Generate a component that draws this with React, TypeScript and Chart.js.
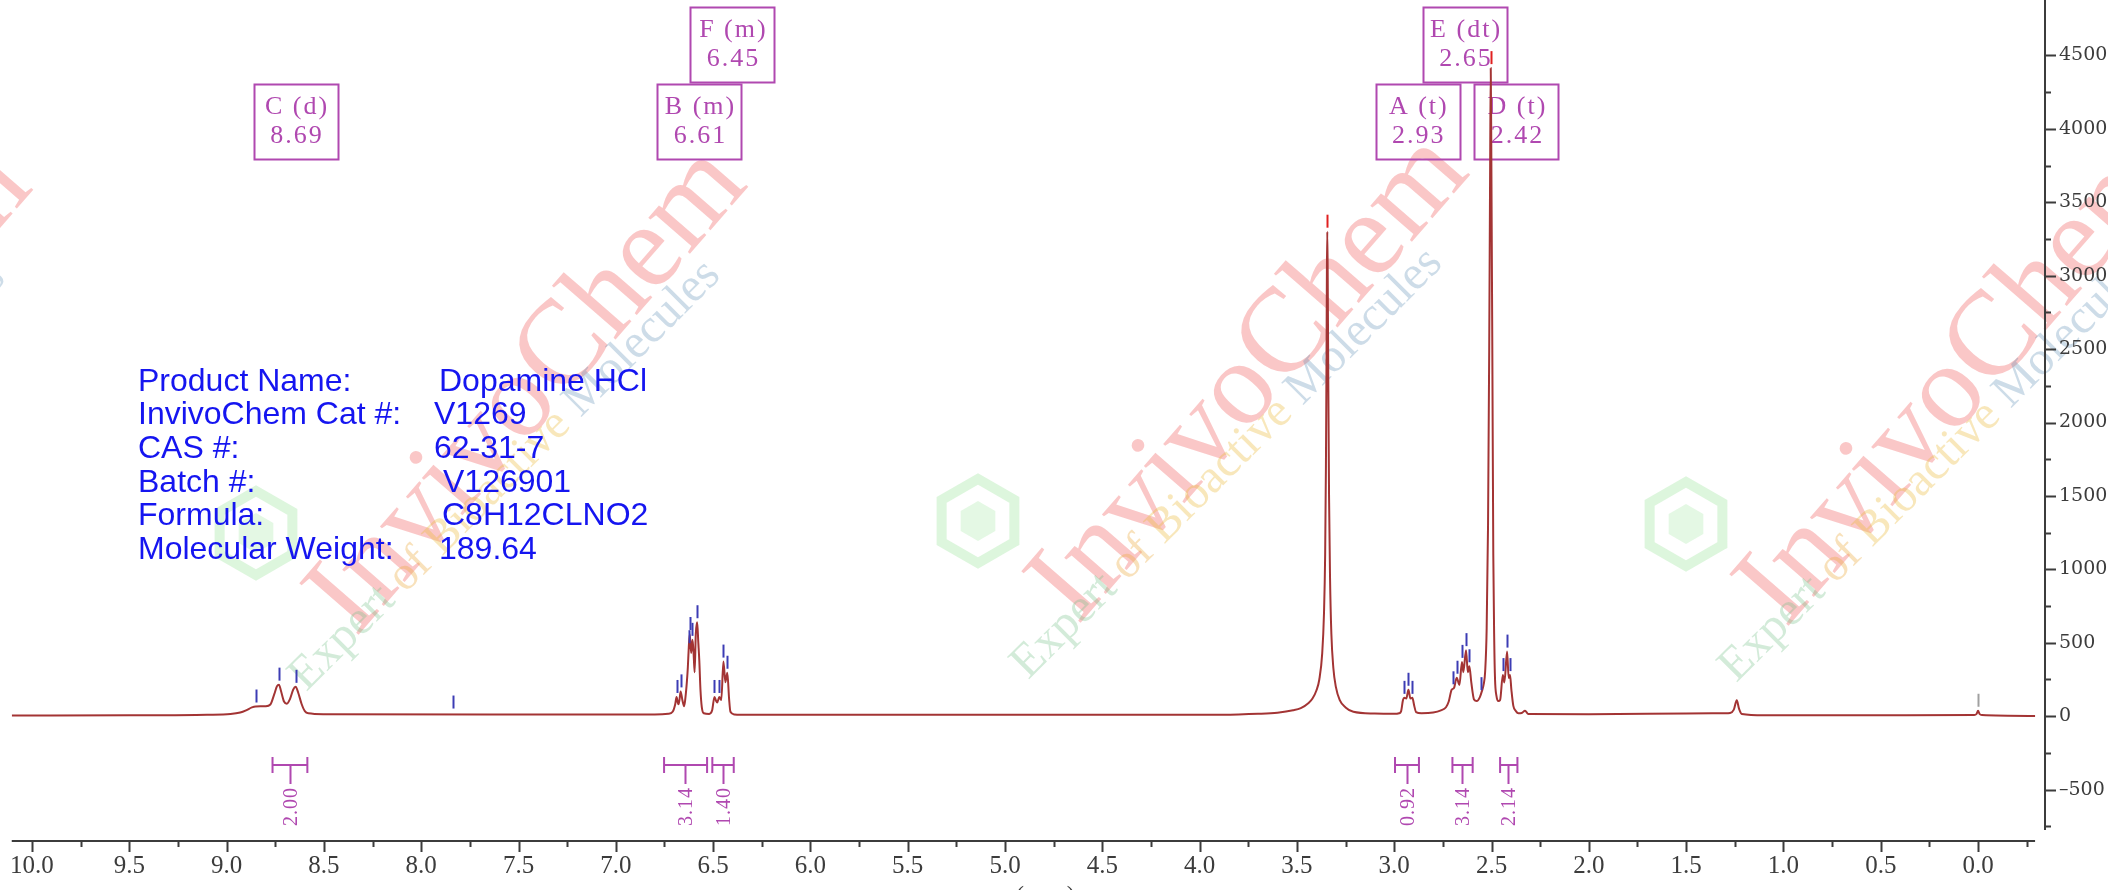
import React, { useEffect, useRef } from 'react';
import { Chart, registerables } from 'chart.js';

Chart.register(...registerables);

// ---------------- data ----------------
const spectrumPpm = [
  10.104, 9.5, 9.1, 8.98, 8.93, 8.9, 8.87, 8.85, 8.8, 8.775, 8.755, 8.741, 8.731, 8.72, 8.705, 8.69, 8.675, 8.658, 8.645, 8.632, 8.615, 8.598, 8.58, 8.5, 7.5, 6.8, 6.73,
  6.708, 6.695, 6.688, 6.682, 6.678, 6.672, 6.667, 6.658, 6.649, 6.642, 6.635, 6.63, 6.625, 6.62, 6.613, 6.606, 6.6, 6.595, 6.589, 6.582, 6.576, 6.571, 6.565, 6.558, 6.548,
  6.52, 6.505, 6.493, 6.485, 6.479, 6.468, 6.458, 6.447, 6.437, 6.427, 6.418, 6.411, 6.39, 6.36,
  5.0, 4.0, 3.8, 3.7, 3.6, 3.52, 3.48, 3.44, 3.42, 3.4, 3.385, 3.37, 3.361, 3.355, 3.351, 3.348, 3.346, 3.344, 3.342, 3.339, 3.335, 3.33, 3.323, 3.313, 3.3, 3.28, 3.25, 3.21, 3.1,
  3.0, 2.975, 2.965, 2.955, 2.948, 2.938, 2.927, 2.917, 2.907, 2.897, 2.888, 2.86, 2.8, 2.76,
  2.734, 2.72, 2.705, 2.693, 2.679, 2.665, 2.652, 2.645, 2.631, 2.622, 2.614, 2.604, 2.59, 2.576, 2.56, 2.55, 2.54, 2.533,
  2.525, 2.518, 2.512, 2.507, 2.504, 2.501, 2.496, 2.491, 2.486, 2.482, 2.475, 2.465, 2.456,
  2.442, 2.434, 2.42, 2.412, 2.405, 2.398, 2.388, 2.375, 2.362, 2.345, 2.328, 2.311,
  2.0, 1.5, 1.3, 1.274, 1.255, 1.24, 1.228, 1.214, 1.1, 0.5, 0.02, 0.008, 0.0, -0.008, -0.02, -0.293,
];
const spectrumIntensity = [
  4, 6, 10, 15, 25, 40, 60, 66, 68, 80, 150, 205, 215, 170, 100, 85, 115, 180, 200, 160, 85, 35, 20, 14, 12, 12, 16,
  30, 80, 131, 95, 81, 120, 169, 110, 68, 130, 232, 330, 470, 560, 430, 520, 420, 300, 560, 640, 500, 380, 180, 60, 20,
  15, 40, 131, 105, 94, 131, 110, 372, 232, 296, 120, 30, 12, 10,
  10, 10, 12, 16, 24, 40, 55, 90, 120, 175, 250, 430, 700, 1100, 1700, 2420, 3040, 3300, 3040, 2320, 1500, 950, 560, 330, 200, 110, 60, 30, 18,
  16, 20, 33, 110, 125, 120, 180, 120, 125, 70, 28, 20, 25, 40,
  61, 100, 180, 192, 262, 213, 370, 300, 450, 300, 340, 230, 114, 103, 130, 169, 220, 301,
  600, 1300, 2500, 3800, 4414, 3800, 2500, 1100, 500, 250, 140, 103, 110,
  280, 230, 440, 260, 280, 180, 70, 35, 20, 22, 37, 15,
  14, 18, 20, 22, 45, 108, 50, 15, 6, 6, 8, 15, 37, 15, 8, 2,
];

// peak pick marks: ppm, peak intensity
const pickPpm = [8.85, 8.731, 8.645, 7.837, 6.688, 6.667, 6.625, 6.62, 6.606, 6.582, 6.493, 6.468, 6.447, 6.427, 2.948, 2.927, 2.907, 2.696, 2.679, 2.652, 2.631, 2.614, 2.556, 2.442, 2.42, 2.405];
const pickHeight = [66, 215, 200, 25, 131, 169, 470, 560, 520, 640, 131, 131, 372, 296, 125, 180, 125, 190, 262, 370, 450, 340, 150, 280, 440, 280];
const solventPpm = [3.344, 2.504];
const solventHeight = [3300, 4414];
const refPpm = [0.0];
const refHeight = [37];

// integrals
const integralFrom = [8.764, 6.752, 6.504, 2.996, 2.701, 2.456];
const integralTo = [8.585, 6.531, 6.394, 2.873, 2.597, 2.367];
const integralMid = [8.675, 6.642, 6.449, 2.936, 2.653, 2.414];
const integralValues = ['2.00', '3.14', '1.40', '0.92', '3.14', '2.14'];

// multiplet labels
const multipletNames = ['C (d)', 'B (m)', 'F (m)', 'A (t)', 'D (t)', 'E (dt)'];
const multipletShifts = ['8.69', '6.61', '6.45', '2.93', '2.42', '2.65'];
const multipletBoxPpm = [8.643, 6.57, 6.401, 2.879, 2.372, 2.636];
const multipletRow = [1, 1, 0, 1, 1, 0];

// axes
const xMajorTicks = [10, 9.5, 9, 8.5, 8, 7.5, 7, 6.5, 6, 5.5, 5, 4.5, 4, 3.5, 3, 2.5, 2, 1.5, 1, 0.5, 0];
const xTickLabels = ['10.0', '9.5', '9.0', '8.5', '8.0', '7.5', '7.0', '6.5', '6.0', '5.5', '5.0', '4.5', '4.0', '3.5', '3.0', '2.5', '2.0', '1.5', '1.0', '0.5', '0.0'];
const xMinorTicks = [9.75, 9.25, 8.75, 8.25, 7.75, 7.25, 6.75, 6.25, 5.75, 5.25, 4.75, 4.25, 3.75, 3.25, 2.75, 2.25, 1.75, 1.25, 0.75, 0.25, -0.25];
const yMajorTicks = [-500, 0, 500, 1000, 1500, 2000, 2500, 3000, 3500, 4000, 4500];
const yTickLabels = ['\u2013500', '0', '500', '1000', '1500', '2000', '2500', '3000', '3500', '4000', '4500'];
const yMinorTicks = [-750, -250, 250, 750, 1250, 1750, 2250, 2750, 3250, 3750, 4250];

// product info
const infoKeys = ['Product Name:', 'InvivoChem Cat #:', 'CAS #:', 'Batch #:', 'Formula:', 'Molecular Weight:'];
const infoValues = ['Dopamine HCl', 'V1269', '62-31-7', 'V126901', 'C8H12CLNO2', '189.64'];

// watermark
const watermarkBrand = 'InvivoChem';
const watermarkWords = ['Expert', 'of', 'Bioactive', 'Molecules'];

// ---------------- styles / layout ----------------
const W = 2108;
const H = 890;
const LINE_COLOR = '#a33434';
const AXIS_COLOR = '#3c3c3c';
const MAGENTA = '#b048b0';
const BLUE_PICK = '#3c3cb4';
const INFO_BLUE = '#1515f0';
const infoValueX = [439, 434, 434, 443, 442, 439];
const wmCenters = [[-185, 395], [530, 392], [1252, 380], [1960, 383]];
const wmWordColors = ['rgba(110,190,130,0.30)', 'rgba(235,170,60,0.35)', 'rgba(235,185,60,0.35)', 'rgba(90,140,180,0.30)'];

const watermark = {
  id: 'watermark',
  beforeDraw(chart: any) {
    const ctx = chart.ctx as CanvasRenderingContext2D;
    ctx.save();
    ctx.fillStyle = '#ffffff';
    ctx.fillRect(0, 0, W, H);
    wmCenters.forEach(([cx, cy]) => {
      // brand
      ctx.save();
      ctx.translate(cx, cy);
      ctx.rotate((-49 * Math.PI) / 180);
      ctx.font = '120px "Liberation Serif"';
      ctx.textAlign = 'center';
      ctx.textBaseline = 'alphabetic';
      ctx.fillStyle = 'rgba(240,70,70,0.3)';
      ctx.fillText(watermarkBrand, 0, 30);
      ctx.restore();
      // tagline
      ctx.save();
      ctx.translate(cx - 40, cy + 60);
      ctx.rotate((-45 * Math.PI) / 180);
      ctx.font = '48px "Liberation Serif"';
      ctx.textBaseline = 'alphabetic';
      ctx.textAlign = 'left';
      let total = 0;
      watermarkWords.forEach((w) => (total += ctx.measureText(w + ' ').width));
      let x = -total / 2;
      watermarkWords.forEach((w, i) => {
        ctx.fillStyle = wmWordColors[i];
        ctx.fillText(w, x, 40);
        x += ctx.measureText(w + ' ').width;
      });
      ctx.restore();
      // logo
      ctx.save();
      ctx.translate(cx - 274, cy + 141);
      ctx.strokeStyle = 'rgba(120,220,120,0.25)';
      ctx.lineWidth = 10;
      ctx.beginPath();
      for (let k = 0; k < 6; k++) {
        const a = (Math.PI / 3) * k + Math.PI / 6;
        const px = 42 * Math.cos(a);
        const py = 42 * Math.sin(a);
        if (k === 0) ctx.moveTo(px, py);
        else ctx.lineTo(px, py);
      }
      ctx.closePath();
      ctx.stroke();
      ctx.fillStyle = 'rgba(120,220,120,0.2)';
      ctx.beginPath();
      for (let k = 0; k < 6; k++) {
        const a = (Math.PI / 3) * k + Math.PI / 6;
        const px = 20 * Math.cos(a);
        const py = 20 * Math.sin(a);
        if (k === 0) ctx.moveTo(px, py);
        else ctx.lineTo(px, py);
      }
      ctx.closePath();
      ctx.fill();
      ctx.restore();
    });
    ctx.restore();
  },
};

const decor = {
  id: 'decor',
  beforeDatasetsDraw(chart: any) {
    const ctx = chart.ctx as any;
    const xs = chart.scales.x;
    ctx.save();
    // multiplet boxes
    ctx.strokeStyle = MAGENTA;
    ctx.fillStyle = MAGENTA;
    ctx.lineWidth = 2;
    ctx.font = '26px "Liberation Serif"';
    ctx.letterSpacing = '2px';
    ctx.textAlign = 'center';
    ctx.textBaseline = 'middle';
    multipletNames.forEach((name, i) => {
      const cx = xs.getPixelForValue(multipletBoxPpm[i]);
      const top = multipletRow[i] === 0 ? 7 : 84;
      const w = 84;
      ctx.strokeRect(Math.round(cx - w / 2) + 0.5, top + 0.5, w, 75);
      ctx.fillText(name, cx + 1, top + 23);
      ctx.fillText(multipletShifts[i], cx + 1, top + 52);
    });
    ctx.letterSpacing = '0px';
    // product info
    ctx.fillStyle = INFO_BLUE;
    ctx.font = '32px "Liberation Sans"';
    ctx.textAlign = 'left';
    infoKeys.forEach((k, i) => {
      const y = 382 + i * 33.6;
      ctx.fillText(k, 138, y);
      ctx.fillText(infoValues[i], infoValueX[i], y);
    });
    ctx.restore();
  },
  afterDatasetsDraw(chart: any) {
    const ctx = chart.ctx as any;
    const xs = chart.scales.x;
    const ys = chart.scales.y;
    const area = chart.chartArea;
    ctx.save();
    // peak picks
    const drawPick = (p: number, h: number, color: string) => {
      const x = Math.round(xs.getPixelForValue(p)) + 0.5;
      const y = ys.getPixelForValue(h);
      ctx.strokeStyle = color;
      ctx.lineWidth = 2;
      ctx.beginPath();
      ctx.moveTo(x, y - 4);
      ctx.lineTo(x, y - 17);
      ctx.stroke();
    };
    pickPpm.forEach((p, i) => drawPick(p, pickHeight[i], BLUE_PICK));
    solventPpm.forEach((p, i) => drawPick(p, solventHeight[i], '#e02020'));
    refPpm.forEach((p, i) => drawPick(p, refHeight[i], '#a0a0a0'));

    // integrals
    ctx.strokeStyle = MAGENTA;
    ctx.fillStyle = MAGENTA;
    ctx.lineWidth = 2;
    ctx.font = '20px "Liberation Serif"';
    ctx.letterSpacing = '1px';
    integralFrom.forEach((a, i) => {
      const x1 = xs.getPixelForValue(a);
      const x2 = xs.getPixelForValue(integralTo[i]);
      const xm = Math.round(xs.getPixelForValue(integralMid[i])) + 0.5;
      const yb = 765;
      ctx.beginPath();
      ctx.moveTo(x1, yb);
      ctx.lineTo(x2, yb);
      ctx.moveTo(x1, yb - 8);
      ctx.lineTo(x1, yb + 8);
      ctx.moveTo(x2, yb - 8);
      ctx.lineTo(x2, yb + 8);
      ctx.moveTo(xm, yb);
      ctx.lineTo(xm, yb + 19);
      ctx.stroke();
      ctx.save();
      ctx.translate(xm, 787);
      ctx.rotate(-Math.PI / 2);
      ctx.textAlign = 'right';
      ctx.textBaseline = 'middle';
      ctx.fillText(integralValues[i], 0, 1);
      ctx.restore();
    });
    ctx.letterSpacing = '0px';

    // axes
    ctx.strokeStyle = AXIS_COLOR;
    ctx.lineWidth = 2;
    const xAxisY = area.bottom;
    const xRight = xs.getPixelForValue(-0.293);
    ctx.beginPath();
    ctx.moveTo(area.left, xAxisY);
    ctx.lineTo(xRight, xAxisY);
    xMajorTicks.forEach((t) => {
      const x = Math.round(xs.getPixelForValue(t)) + 0.5;
      ctx.moveTo(x, xAxisY);
      ctx.lineTo(x, xAxisY + 11);
    });
    xMinorTicks.forEach((t) => {
      const x = Math.round(xs.getPixelForValue(t)) + 0.5;
      ctx.moveTo(x, xAxisY);
      ctx.lineTo(x, xAxisY + 6);
    });
    const yAxisX = area.right;
    ctx.moveTo(yAxisX, 0);
    ctx.lineTo(yAxisX, area.bottom - 11);
    yMajorTicks.forEach((t) => {
      const y = Math.round(ys.getPixelForValue(t)) + 0.5;
      ctx.moveTo(yAxisX, y);
      ctx.lineTo(yAxisX + 11, y);
    });
    yMinorTicks.forEach((t) => {
      const y = Math.round(ys.getPixelForValue(t)) + 0.5;
      ctx.moveTo(yAxisX, y);
      ctx.lineTo(yAxisX + 6, y);
    });
    ctx.stroke();

    // axis title (cut by the bottom edge)
    ctx.fillStyle = AXIS_COLOR;
    ctx.font = '24px "Liberation Serif"';
    ctx.textAlign = 'center';
    ctx.textBaseline = 'top';
    ctx.fillText('(ppm)', (area.left + xRight) / 2 + 22, 884);
    ctx.restore();
  },
};

export default function App() {
  const ref = useRef<HTMLCanvasElement | null>(null);
  useEffect(() => {
    document.body.style.margin = '0';
    document.body.style.background = '#ffffff';
    const canvas = ref.current!;
    const chart = new Chart(canvas, {
      type: 'line',
      data: {
        datasets: [
          {
            data: spectrumPpm.map((p, i) => ({ x: p, y: spectrumIntensity[i] })),
            borderColor: LINE_COLOR,
            borderWidth: 2,
            pointRadius: 0,
            cubicInterpolationMode: 'monotone',
            fill: false,
          },
        ],
      },
      options: {
        responsive: false,
        animation: false,
        devicePixelRatio: 1,
        layout: { padding: { left: 11.7, top: 0, right: 0, bottom: 0 } },
        plugins: { legend: { display: false }, tooltip: { enabled: false } },
        scales: {
          x: {
            type: 'linear',
            reverse: true,
            min: -0.344,
            max: 10.104,
            grid: { display: false, drawTicks: false },
            border: { display: false },
            afterBuildTicks: (s: any) => {
              s.ticks = xMajorTicks.map((v) => ({ value: v }));
            },
            afterFit: (s: any) => {
              s.height = 49;
            },
            ticks: {
              autoSkip: false,
              maxRotation: 0,
              padding: 10,
              color: AXIS_COLOR,
              font: { family: '"Liberation Serif"', size: 25 },
              callback: (_v: any, i: number) => xTickLabels[i],
            },
          },
          y: {
            type: 'linear',
            position: 'right',
            min: -850,
            max: 4705,
            grid: { display: false, drawTicks: false },
            border: { display: false },
            afterBuildTicks: (s: any) => {
              s.ticks = yMajorTicks.map((v) => ({ value: v }));
            },
            afterFit: (s: any) => {
              s.width = 63;
            },
            ticks: {
              autoSkip: false,
              padding: 14,
              color: AXIS_COLOR,
              font: { family: '"DejaVu Serif"', size: 19 },
              callback: (_v: any, i: number) => yTickLabels[i],
            },
          },
        },
      },
      plugins: [watermark, decor],
    });
    return () => chart.destroy();
  }, []);
  return <canvas ref={ref} width={W} height={H} style={{ display: 'block', width: W, height: H }} />;
}
